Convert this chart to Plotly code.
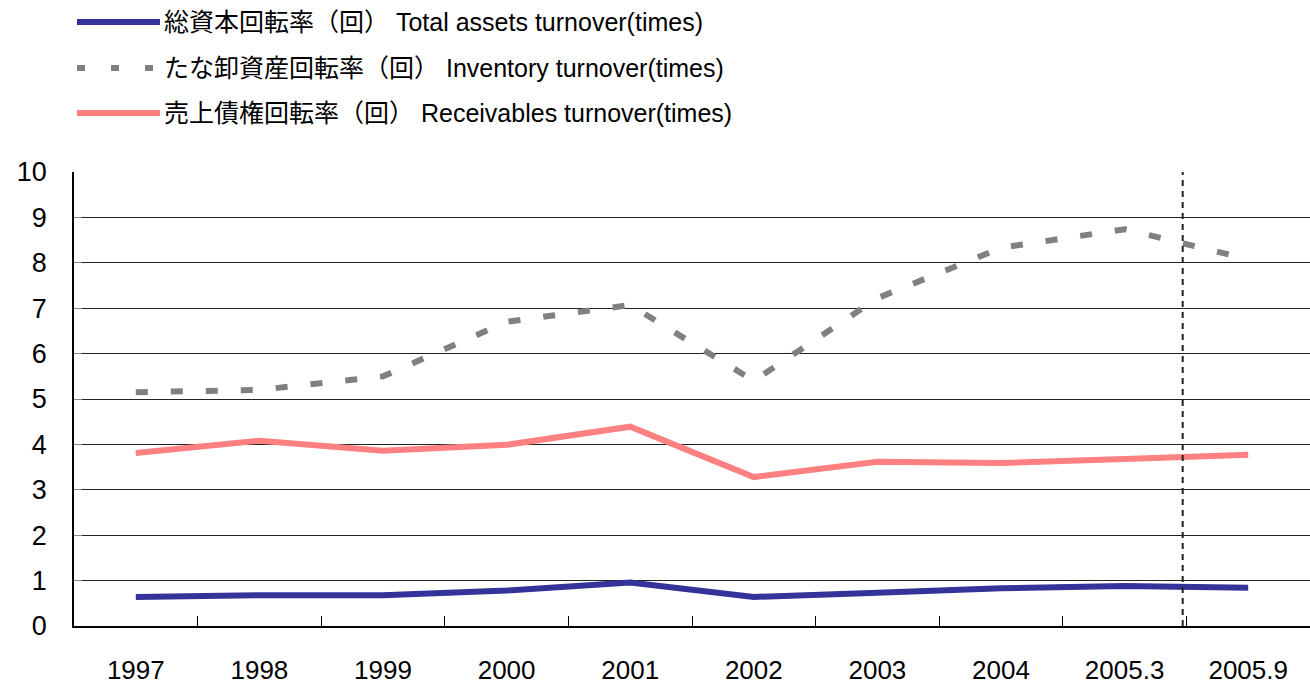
import plotly.graph_objects as go

periods = ['1997', '1998', '1999', '2000', '2001', '2002', '2003', '2004', '2005.3', '2005.9']
total_assets = [0.64, 0.68, 0.68, 0.78, 0.96, 0.64, 0.73, 0.83, 0.88, 0.84]
inventory = [5.15, 5.20, 5.50, 6.70, 7.07, 5.40, 7.22, 8.33, 8.74, 8.08]
receivables = [3.81, 4.08, 3.86, 3.99, 4.39, 3.28, 3.62, 3.59, 3.68, 3.77]

names = ['総資本回転率（回） Total assets turnover(times)',
         'たな卸資産回転率（回） Inventory turnover(times)',
         '売上債権回転率（回） Receivables turnover(times)']
colors = ['#333399', '#808080', '#FF8080']
dashes = ['solid', '12px,23px', 'solid']
series = [total_assets, inventory, receivables]

FONT = 'Liberation Sans, Arial, Noto Sans CJK JP, sans-serif'
L, R, T, B = 74, 0, 172, 59
W, H = 1310, 685
PW, PH = W - L - R, H - T - B

fig = go.Figure()
for name, vals, col, dsh in zip(names, series, colors, dashes):
    fig.add_trace(go.Scatter(x=periods, y=vals, mode='lines', name=name,
                             line=dict(color=col, width=6, dash=dsh), showlegend=False))

fig.update_layout(width=W, height=H, margin=dict(l=L, r=R, t=T, b=B, autoexpand=False),
                  paper_bgcolor='white', plot_bgcolor='white',
                  font=dict(family=FONT, color='black'))

fig.update_xaxes(type='category', range=[-0.5, 9.5], showgrid=False, showline=True, linecolor='black',
                 linewidth=1.5, ticks='inside', tickson='boundaries', ticklen=10, tickcolor='black',
                 tickfont=dict(size=26), ticklabelstandoff=20, automargin=False)
fig.update_yaxes(range=[0, 10], dtick=1, showgrid=True, gridcolor='#222222', gridwidth=1,
                 showline=True, linecolor='black', linewidth=1.5, ticks='inside', ticklen=8,
                 tickcolor='#888888', tickfont=dict(size=27), ticklabelstandoff=20, zeroline=False,
                 automargin=False)

# dashed divider between 2005.3 and 2005.9
fig.add_shape(type='line', xref='x', yref='paper', x0=8.47, x1=8.47, y0=0, y1=1,
              line=dict(color='#222222', width=2, dash='6px,5px'))

# hand-drawn legend at top left
rows_y = [22, 68, 113]
for name, col, dsh, yy in zip(names, colors, dashes, rows_y):
    yp = 1 + (T - yy) / PH
    x0 = (77 - L) / PW
    x1 = (160 - L) / PW
    fig.add_shape(type='line', xref='paper', yref='paper', x0=x0, x1=x1, y0=yp, y1=yp,
                  line=dict(color=col, width=6, dash='8px,26px' if dsh != 'solid' else 'solid'))
    fig.add_annotation(xref='paper', yref='paper', x=(162 - L) / PW, y=yp, text=name,
                       showarrow=False, xanchor='left', yanchor='middle',
                       font=dict(size=25, family=FONT, color='black'))

fig.write_html('out.html', config={'displayModeBar': False},
               post_script="document.body.style.margin='0';document.body.style.overflow='hidden';")
